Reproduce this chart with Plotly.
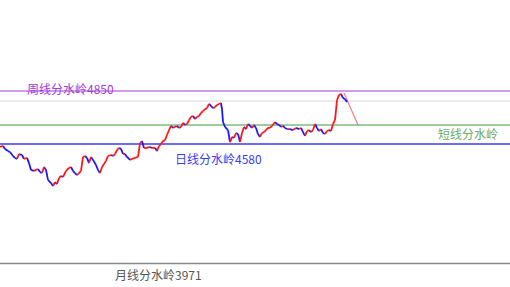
import plotly.graph_objects as go

# trading-day index and closing price
days = [0,3,5,8,10,13,15,17,19,22,24,27,29,31,34,36,38,40,42,44,46,48,51,53,55,57,59,61,63,66,69,71,73,75,77,79,81,83,85,87,89,91,93,96,98,100,102,104,106,108,111,113,115,117,119,121,123,125,127,130,132,135,138,140,142,144,147,150,152,155,157,159,161,163,165,167,169,171,173,175,177,179,181,183,185,187,189,191,193,195,197,199,201,203,205,207,209,211,213,215,217,219,221,222,223,225,228,230,232,234,236,238,240,242,244,246,248,250,252,254,256,258,260,262,264,266,268,270,272,275,277,279,281,283,285,287,290,293,296,299,301,303,305,307,309,311,313,315,317,319,321,323,325,327,329,331,333,335,337,339,341,343,345,347]
close = [4565,4570,4555,4544,4539,4519,4509,4504,4529,4524,4504,4509,4483,4448,4443,4448,4453,4437,4432,4463,4448,4397,4381,4366,4386,4376,4407,4417,4412,4443,4458,4463,4443,4432,4422,4432,4443,4514,4519,4509,4483,4514,4499,4473,4448,4432,4463,4478,4494,4519,4524,4519,4529,4549,4560,4555,4529,4529,4514,4499,4504,4509,4514,4585,4595,4560,4560,4565,4560,4560,4544,4570,4580,4595,4600,4626,4651,4672,4662,4667,4672,4662,4667,4687,4677,4682,4702,4718,4723,4707,4718,4723,4738,4748,4758,4763,4784,4774,4763,4768,4779,4784,4789,4758,4692,4667,4651,4590,4616,4611,4636,4631,4590,4636,4667,4656,4682,4672,4662,4677,4662,4631,4616,4636,4641,4651,4662,4662,4672,4692,4682,4677,4667,4672,4662,4656,4656,4651,4662,4656,4662,4641,4621,4646,4651,4641,4651,4682,4662,4646,4656,4636,4631,4646,4651,4646,4682,4702,4804,4830,4835,4814,4809,4794]

# projected move
proj_days = [344, 358]
proj_price = [4840, 4677]

# support / resistance levels
weekly_level = 4850
upper_ref = 4799
short_level = 4677
daily_level = 4580
monthly_level = 3971

rx, ry, bx, by = [], [], [], []
for i in range(1, len(days)):
    seg_x = [days[i-1], days[i], None]
    seg_y = [close[i-1], close[i], None]
    if close[i] >= close[i-1]:
        rx += seg_x; ry += seg_y
    else:
        bx += seg_x; by += seg_y

fig = go.Figure()
lvl_style = [
    (weekly_level, "#a23bd6", 1.2),
    (upper_ref, "#e6e6e6", 1.5),
    (short_level, "#7dbb7d", 1.5),
    (daily_level, "#3b3bf0", 1.5),
    (monthly_level, "#8a8a8a", 1.5),
]
for lv, col, w in lvl_style:
    fig.add_trace(go.Scatter(x=[-10, 600], y=[lv, lv], mode="lines",
                             line=dict(color=col, width=w), hoverinfo="skip"))

fig.add_trace(go.Scatter(x=proj_days, y=proj_price, mode="lines",
                         line=dict(color="rgba(240,90,90,0.75)", width=1.2)))
fig.add_trace(go.Scatter(x=bx, y=by, mode="lines", line=dict(color="#1a1aff", width=1.8)))
fig.add_trace(go.Scatter(x=rx, y=ry, mode="lines", line=dict(color="#ff1a1a", width=1.8)))

font = "Noto Sans CJK SC"
ann = [
    (25, weekly_level, "周线分水岭4850", "#a23bd6", 3),
    (173, daily_level, "日线分水岭4580", "#3b3bf0", -14),
    (436, short_level, "短线分水岭", "#6aaa6a", -9),
    (113, monthly_level, "月线分水岭3971", "#555555", -11),
]
for x, y, t, c, yo in ann:
    fig.add_annotation(x=x, y=y, text=t, showarrow=False, xanchor="left",
                       yanchor="middle", yshift=yo,
                       font=dict(family=font, size=12, color=c))

fig.update_layout(
    width=510, height=287, margin=dict(l=0, r=0, t=0, b=0),
    paper_bgcolor="white", plot_bgcolor="white", showlegend=False,
    xaxis=dict(range=[0, 510], visible=False),
    yaxis=dict(range=[3851.6, 5313.6], visible=False),
)
fig.write_html("out.html")
